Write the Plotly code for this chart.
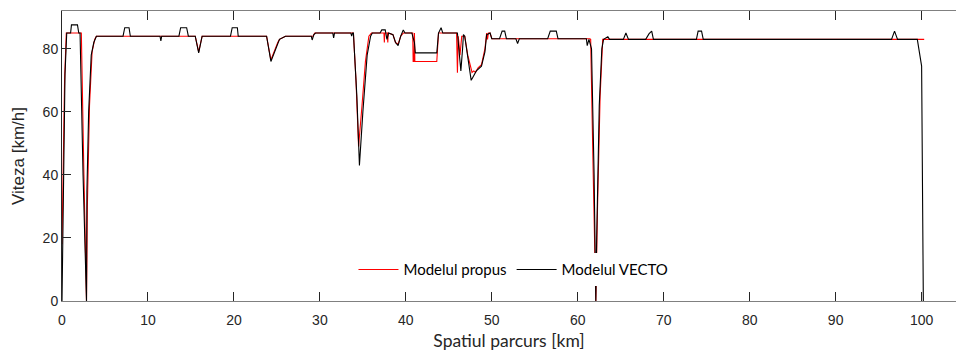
import plotly.graph_objects as go

# Distance along the route [km] and speed [km/h] for the proposed model
propus_km = [0, 0.3, 0.5, 2.25, 2.55, 2.85, 2.95, 3.2, 3.5, 3.8, 4.0, 15.5, 15.9, 16.3,
             23.8, 24.3, 25.1, 25.3, 26.0, 29.2, 29.4, 33.9, 34.2,
             34.5, 34.9, 35.3, 35.7, 36.0, 37.45, 37.5, 37.55, 37.85, 37.9, 37.95, 38.5, 38.8,
             39.1, 39.4, 39.7, 40.8, 40.85, 40.95, 41.0, 41.05, 43.6, 43.8, 45.9, 46.0, 46.1,
             46.3, 46.5, 46.85, 47.2, 47.5, 47.7, 47.9, 48.1, 48.4, 48.8, 49.2, 49.4, 49.5,
             49.6, 49.8, 50.0, 61.4, 61.5, 61.8, 62.1, 62.3, 62.6, 62.9, 100.3]
propus_v = [18, 70, 85, 85, 40, 0, 30, 62, 79, 83, 84, 84, 79, 84,
            84, 76.5, 82, 83, 84, 84, 85, 85, 70,
            49, 62, 76, 84, 85, 85, 82, 85, 85, 82, 85, 84.5, 82,
            81.5, 84, 85, 85, 76, 76, 85, 76, 76, 85, 85, 72.4, 84,
            78, 84, 84, 78, 74, 72.5, 73, 72.5, 74, 75, 80, 85, 83,
            85, 85, 83.2, 83.2, 83, 40, 0, 30, 65, 83, 83]

# Distance along the route [km] and speed [km/h] for the VECTO model
vecto_km = [0, 0.15, 0.35, 0.55, 1.0, 1.1, 1.8, 1.95, 2.1, 2.45, 2.8, 2.85, 2.9, 3.1, 3.4, 3.7,
            4.0, 7.1, 7.3, 7.8, 7.95, 11.4, 11.5, 11.6, 13.6, 13.8, 14.5, 14.7, 15.5, 15.9,
            16.3, 19.6, 19.8, 20.4, 20.5, 23.8, 24.3, 25.1, 25.3, 26.0, 29.0, 29.1, 29.3,
            29.5, 31.5, 31.6, 31.7, 33.6, 33.7, 33.8, 33.9, 34.3, 34.6, 35.0, 35.5, 35.9,
            36.1, 37.0, 37.2, 37.6, 37.8, 38.0, 38.5, 38.8, 39.1, 39.4, 39.7, 39.9, 40.7,
            41.0, 41.1, 43.6, 43.8, 44.1, 44.3, 46.0, 46.2, 46.4, 46.6, 46.7, 46.85, 47.2,
            47.6, 47.8, 48.2, 48.8, 49.2, 49.4, 49.8, 50.0, 50.9, 51.2, 51.5, 51.7, 52.8,
            53.0, 53.2, 56.5, 56.8, 57.5, 57.7, 61.0, 61.1, 61.3, 61.6, 61.9, 62.1, 62.2,
            62.5, 62.8, 63.0, 63.5, 63.7, 65.3, 65.6, 65.9, 67.9, 68.3, 68.6, 68.8, 73.8,
            74.0, 74.4, 74.6, 96.5, 96.85, 97.2, 99.5, 100.0, 100.2]
vecto_v = [0, 40, 72, 85, 85, 87.6, 87.6, 85, 85, 40, 0, 0, 35, 60, 78, 82,
           84, 84, 86.7, 86.7, 84, 84, 82.5, 84, 84, 86.7, 86.7, 84, 84, 78.7,
           84, 84, 86.7, 86.7, 84, 84, 76, 82, 83, 84, 84, 82.8, 84.5,
           85, 85, 83.5, 85, 85, 84, 85, 85, 65, 43, 60, 78, 84,
           85, 85, 86, 86, 83, 85, 84.5, 82, 81, 84, 86, 85, 85,
           82, 78.7, 78.7, 85, 86.7, 85, 85, 78, 73, 80, 84.5, 84, 77,
           70, 71, 73, 74.5, 79, 84.5, 85, 83.2, 83.2, 85.6, 85.6, 83.2, 83.2,
           81.7, 83.2, 83.2, 85.6, 85.6, 83.2, 83.2, 81, 83, 80, 40, 0, 20,
           62, 80, 83, 83.8, 83, 83, 85, 83, 83, 84.8, 85.6, 83, 83,
           85.6, 85.6, 83, 83, 85.6, 83, 83, 74.5, 0]

x_ticks = [0, 10, 20, 30, 40, 50, 60, 70, 80, 90, 100]
y_ticks = [0, 20, 40, 60, 80]

fig = go.Figure()
fig.add_trace(go.Scatter(x=propus_km, y=propus_v, mode="lines", name="Modelul propus",
                         line=dict(color="#ff0000", width=1.1)))
fig.add_trace(go.Scatter(x=vecto_km, y=vecto_v, mode="lines", name="Modelul VECTO",
                         line=dict(color="#000000", width=1.1)))

axis_common = dict(showgrid=False, zeroline=False, showline=True, linewidth=1,
                   ticks="inside", ticklen=9, tickwidth=1, tickcolor="#262626",
                   tickfont=dict(family="Liberation Sans, Arial", size=14, color="#262626"))

fig.update_xaxes(range=[0, 104], tickvals=x_ticks, mirror="ticks", linecolor="#808080",
                 ticklabelstandoff=6,
                 title=dict(text="Spatiul parcurs [km]",
                            font=dict(family="Lato", size=17.5, color="#262626"), standoff=9),
                 **axis_common)
fig.update_yaxes(range=[0, 92], tickvals=y_ticks, linecolor="#262626",
                 title=dict(text="Viteza [km/h]",
                            font=dict(family="Liberation Sans, Arial", size=17, color="#262626"),
                            standoff=13),
                 **axis_common)

fig.update_layout(
    width=956, height=351,
    margin=dict(l=62, r=0, t=11, b=50),
    paper_bgcolor="white", plot_bgcolor="white",
    showlegend=True,
    legend=dict(orientation="h", x=0.505, xanchor="center", y=0.108, yanchor="middle",
                bgcolor="white", font=dict(family="Lato", size=15, color="#000000"),
                itemwidth=40),
)

fig.write_html("out.html")
